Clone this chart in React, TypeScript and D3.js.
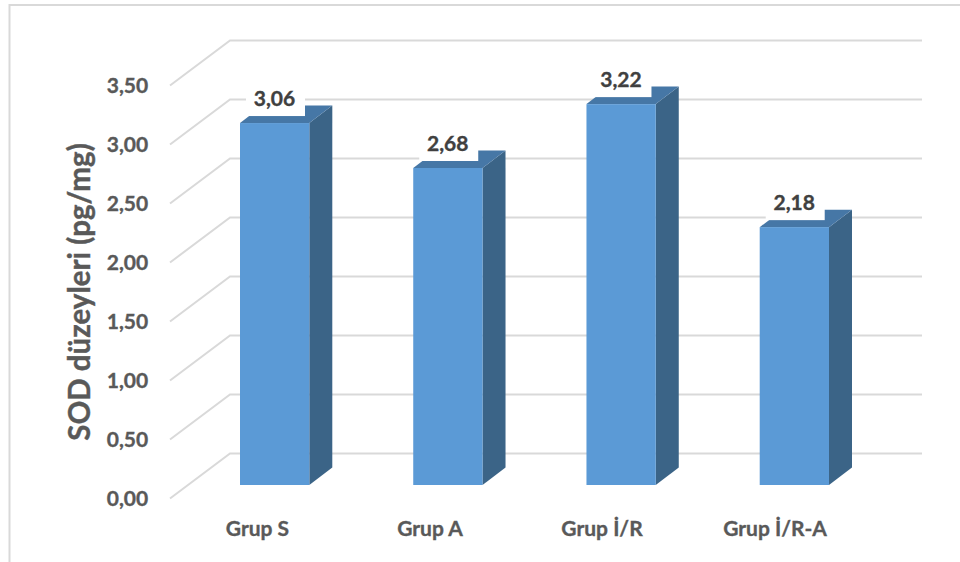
import React from "react";
import * as d3 from "d3";

const categories = ["Grup S", "Grup A", "Grup İ/R", "Grup İ/R-A"];
const values = [3.06, 2.68, 3.22, 2.18];
const valueLabels = ["3,06", "2,68", "3,22", "2,18"];
const yTicks = [0, 0.5, 1, 1.5, 2, 2.5, 3, 3.5];
const yTickLabels = ["0,00", "0,50", "1,00", "1,50", "2,00", "2,50", "3,00", "3,50"];
const categoryCentres = [257.5, 430, 602, 775];
const yAxisTitle = "SOD düzeyleri (pg/mg)";

const WIDTH = 960;
const HEIGHT = 562;
const FONT = "Lato, 'Open Sans', sans-serif";

// Front plane of the floor and the oblique shift to the back wall.
const wallY = d3.scaleLinear().domain([0, 3.5]).range([453.5, 40.5]);
const sideY = d3.scaleLinear().domain([0, 3.5]).range([498.5, 85.5]);
const barY = d3.scaleLinear().domain([0, 3.5]).range([485, 71]);
const barX = d3.scaleBand<string>().domain(categories).range([240, 829]).paddingInner(0.6).paddingOuter(0);
const depthX = 23;
const depthY = -17.5;
const gridLine = d3.line();
const polygon = (pts: [number, number][]) => d3.line()(pts) + "Z";

export default function App() {
  return (
    <svg
      width={WIDTH}
      height={HEIGHT}
      viewBox={`0 0 ${WIDTH} ${HEIGHT}`}
      style={{ position: "absolute", left: 0, top: 0, background: "#fff", fontFamily: FONT }}
    >
      <path d="M9.5 562V5H960" fill="none" stroke="#d9d9d9" strokeWidth={2} />

      {yTicks.map((t, i) => (
        <g key={t}>
          <path
            d={gridLine([[170, sideY(t)], [230, wallY(t)], [922, wallY(t)]]) ?? ""}
            fill="none"
            stroke="#d9d9d9"
            strokeWidth={2}
          />
          <text x={127.5} y={sideY(t) + 7} textAnchor="middle" fontSize={21} fontWeight={700} fill="#595959" stroke="#595959" strokeWidth={0.35}>
            {yTickLabels[i]}
          </text>
        </g>
      ))}

      {categories.map((c, i) => {
        const x0 = barX(c) ?? 0;
        const x1 = x0 + barX.bandwidth();
        const top = barY(values[i]);
        const base = barY(0);
        return (
          <g key={c}>
            <path d={polygon([[x1, top], [x1 + depthX, top + depthY], [x1 + depthX, base + depthY], [x1, base]])} fill="#3b6487" />
            <path d={polygon([[x0, top], [x1, top], [x1 + depthX, top + depthY], [x0 + depthX, top + depthY]])} fill="#4677a6" />
            <rect x={x0} y={top} width={x1 - x0} height={base - top} fill="#5b9ad6" />
            <rect x={x0 + 6} y={top - 33} width={59} height={26} fill="#fff" />
            <text x={x0 + 34.5} y={top - 17} textAnchor="middle" fontSize={21} fontWeight={700} fill="#404040" stroke="#404040" strokeWidth={0.35}>
              {valueLabels[i]}
            </text>
            <text x={categoryCentres[i]} y={536} textAnchor="middle" fontSize={21} fontWeight={700} fill="#595959" stroke="#595959" strokeWidth={0.35}>
              {c}
            </text>
          </g>
        );
      })}

      <text
        transform="translate(90,292) rotate(-90)"
        textAnchor="middle"
        fontSize={29.5}
        fontWeight={700}
        fill="#595959"
        stroke="#595959"
        strokeWidth={0.4}
      >
        {yAxisTitle}
      </text>
    </svg>
  );
}
